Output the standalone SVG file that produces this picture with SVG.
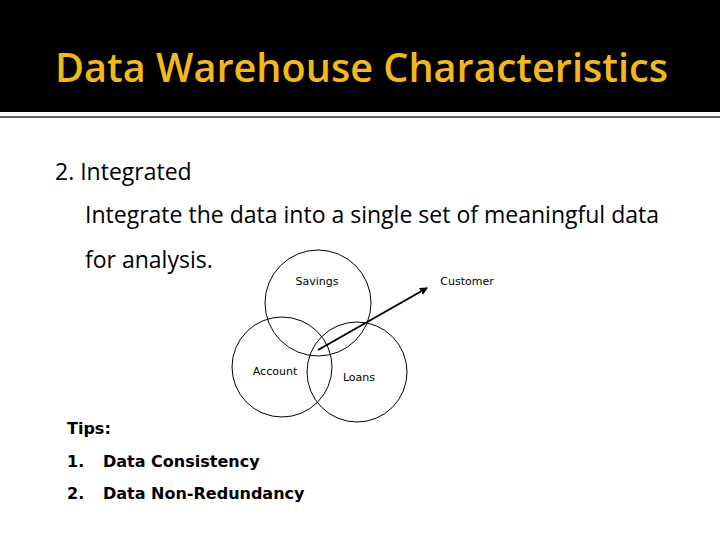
<svg xmlns="http://www.w3.org/2000/svg" width="720" height="540" viewBox="0 0 720 540">
<style>
.c{fill:none;stroke:#000;stroke-width:1}
.s{font-family:"DejaVu Sans",sans-serif;font-size:11px;fill:#000}
.b{font-family:"Open Sans","Liberation Sans",sans-serif;font-size:23px;fill:#000}
.t{font-family:"DejaVu Sans",sans-serif;font-weight:bold;font-size:16px;fill:#000}
</style>
<defs><marker id="ah" markerWidth="8" markerHeight="8" refX="7" refY="4" orient="auto" markerUnits="userSpaceOnUse"><path d="M0,0 L8,4 L0,8 z" fill="#000"/></marker></defs>
<rect width="720" height="540" fill="#fff"/>
<rect width="720" height="112" fill="#000"/>
<line x1="0" y1="117" x2="720" y2="117" stroke="#606060" stroke-width="2"/>
<text x="55" y="82" font-family="'Open Sans','Liberation Sans',sans-serif" font-size="40" font-weight="600" fill="#f3b81a" textLength="613" lengthAdjust="spacingAndGlyphs">Data Warehouse Characteristics</text>
<text class="b" x="55" y="180">2. Integrated</text>
<text class="b" x="85" y="223" textLength="574" lengthAdjust="spacingAndGlyphs">Integrate the data into a single set of meaningful data</text>
<text class="b" x="85" y="268">for analysis.</text>
<g id="savings"><circle class="c" cx="318" cy="303" r="53"/><text class="s" x="317" y="285" text-anchor="middle">Savings</text></g>
<g id="account"><circle class="c" cx="282" cy="367" r="50"/><text class="s" x="275" y="375" text-anchor="middle">Account</text></g>
<g id="loans"><circle class="c" cx="357" cy="372" r="50"/><text class="s" x="359" y="381" text-anchor="middle">Loans</text></g>
<g id="customer"><text class="s" x="467" y="285" text-anchor="middle">Customer</text></g>
<g id="connectors"><line x1="318" y1="350" x2="427" y2="288" stroke="#000" stroke-width="2" marker-end="url(#ah)"/></g>
<text class="t" x="67" y="434">Tips:</text>
<text class="t" x="67" y="467">1.</text><text class="t" x="103" y="467">Data Consistency</text>
<text class="t" x="67" y="499">2.</text><text class="t" x="103" y="499">Data Non-Redundancy</text>
</svg>
